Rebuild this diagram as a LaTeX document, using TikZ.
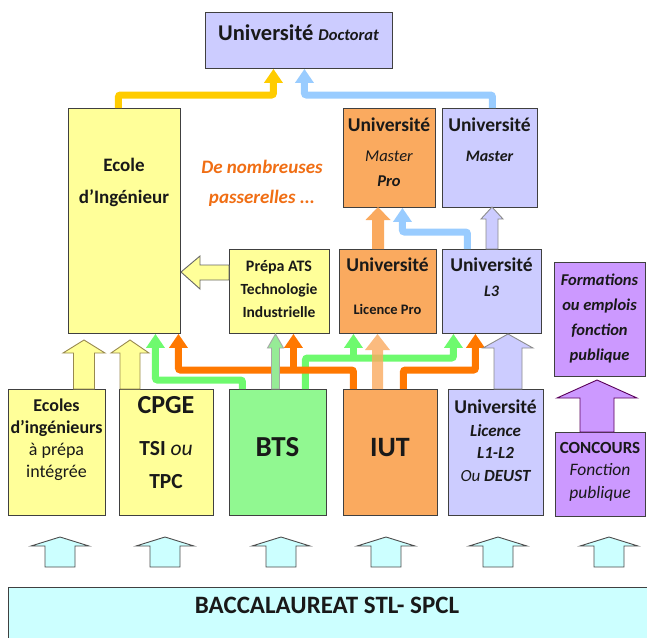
\documentclass[tikz,border=0pt]{standalone}
\usepackage{fontspec}
\setmainfont{Carlito}
\usetikzlibrary{arrows.meta,calc}
\definecolor{lav}{RGB}{204,204,255}
\definecolor{yel}{RGB}{255,255,153}
\definecolor{orb}{RGB}{250,170,95}
\definecolor{grb}{RGB}{145,248,145}
\definecolor{pur}{RGB}{204,153,255}
\definecolor{cya}{RGB}{204,255,255}
\definecolor{gold}{RGB}{255,204,0}
\definecolor{bln}{RGB}{153,204,255}
\definecolor{grn}{RGB}{110,250,110}
\definecolor{orn}{RGB}{255,120,0}
\definecolor{txo}{RGB}{240,110,20}
\definecolor{lgr}{RGB}{150,235,150}
\tikzset{
 box/.style={draw=black!75, line width=0.9pt, inner sep=0pt, anchor=north west},
 tl/.style={inner sep=0pt, text height=0.68em, text depth=0pt, anchor=center, text=black!90},
 flow/.style={line width=7pt, rounded corners=2pt, -{Triangle[length=14pt,width=18pt]}},
 blk/.style={line width=0.9pt, line join=miter},
}
\newcommand\mkbox[6]{\node[box, fill=#2, minimum width=#5pt, minimum height=#6pt] (#1) at (#3,#4) {};}
\newcommand\tline[5]{\node[tl, font=#4] (#1) at (#2,#3) {#5};}
\newcommand\upblk[7]{\path[#1] (#2,#3) -- ({#2+#6},#4) -- ({#2+#7},#4) -- ({#2+#7},#5) -- ({#2-#7},#5) -- ({#2-#7},#4) -- ({#2-#6},#4) -- cycle;}
\newcommand\fs[1]{\fontsize{#1}{#1}\selectfont}
\begin{document}
\begin{tikzpicture}[x=1pt,y=-1pt]
\useasboundingbox (0,0) rectangle (647,637);
% boxes
\mkbox{doc}{lav}{205}{12}{187}{56}
\mkbox{ecole}{yel}{68}{108}{112}{225}
\mkbox{mpro}{orb}{343}{108}{92}{99}
\mkbox{master}{lav}{442}{108}{95}{99}
\mkbox{prepa}{yel}{229}{249}{100}{84}
\mkbox{lpro}{orb}{339}{249}{97}{84}
\mkbox{lthree}{lav}{442}{249}{99}{84}
\mkbox{form}{pur}{554}{262}{91}{114}
\mkbox{ecoles}{yel}{8}{389}{97}{126}
\mkbox{cpge}{yel}{119}{389}{94}{126}
\mkbox{bts}{grb}{229}{389}{97}{126}
\mkbox{iut}{orb}{343}{389}{94}{126}
\mkbox{ulic}{lav}{448}{389}{95}{126}
\mkbox{conc}{pur}{555}{432}{90}{84}
\mkbox{bac}{cya}{8}{587}{645}{55}
% texts
\tline{tdoc}{298.5}{37}{\fs{22.5}\bfseries}{Université {\fs{16.5}\itshape Doctorat}}
\tline{tec1}{124}{168}{\fs{19}\bfseries}{Ecole}
\tline{tec2}{124}{200}{\fs{19}\bfseries}{d’Ingénieur}
\node[tl, text=txo, font=\fs{19}\bfseries\itshape] (tps1) at (262,170) {De nombreuses};
\node[tl, text=txo, font=\fs{19}\bfseries\itshape] (tps2) at (262,200) {passerelles ...};
\tline{tmp1}{389}{128}{\fs{19.5}\bfseries}{Université}
\tline{tmp2}{389}{158}{\fs{16.5}\itshape}{Master}
\tline{tmp3}{389}{183}{\fs{16.5}\bfseries\itshape}{Pro}
\tline{tma1}{489.5}{128}{\fs{19.5}\bfseries}{Université}
\tline{tma2}{489.5}{158}{\fs{16}\bfseries\itshape}{Master}
\tline{tpr1}{279}{268}{\fs{16}\bfseries}{Prépa ATS}
\tline{tpr2}{279}{291}{\fs{15.5}\bfseries}{Technologie}
\tline{tpr3}{279}{314}{\fs{15.5}\bfseries}{Industrielle}
\tline{tlp1}{387.5}{268}{\fs{19.5}\bfseries}{Université}
\tline{tlp2}{387.5}{311}{\fs{14.5}\bfseries}{Licence Pro}
\tline{tl31}{491.5}{268}{\fs{19.5}\bfseries}{Université}
\tline{tl32}{491.5}{293}{\fs{16}\bfseries\itshape}{L3}
\tline{tfo1}{599.5}{282}{\fs{16.5}\bfseries\itshape}{Formations}
\tline{tfo2}{599.5}{307}{\fs{16.5}\bfseries\itshape}{ou emplois}
\tline{tfo3}{599.5}{332}{\fs{16.5}\bfseries\itshape}{fonction}
\tline{tfo4}{599.5}{357}{\fs{16.5}\bfseries\itshape}{publique}
\tline{tes1}{56.5}{408}{\fs{18}\bfseries}{Ecoles}
\tline{tes2}{56.5}{430}{\fs{18}\bfseries}{d’ingénieurs}
\tline{tes3}{56.5}{452}{\fs{18}}{à prépa}
\tline{tes4}{56.5}{474}{\fs{18}}{intégrée}
\tline{tcp1}{166}{410}{\fs{26}\bfseries}{CPGE}
\tline{tcp2}{166}{452}{\fs{21.5}}{\textbf{TSI} \textit{ou}}
\tline{tcp3}{166}{485}{\fs{21.5}\bfseries}{TPC}
\tline{tbts}{277.5}{453}{\fs{29}\bfseries}{BTS}
\tline{tiut}{390}{453}{\fs{28}\bfseries}{IUT}
\tline{tul1}{495.5}{410}{\fs{19.5}\bfseries}{Université}
\tline{tul2}{495.5}{433}{\fs{17}\bfseries\itshape}{Licence}
\tline{tul3}{495.5}{455}{\fs{17}\bfseries\itshape}{L1-L2}
\tline{tul4}{495.5}{478}{\fs{17}\itshape}{Ou \textbf{DEUST}}
\tline{tco1}{600}{450}{\fs{17}\bfseries}{CONCOURS}
\tline{tco2}{600}{472}{\fs{17.5}\itshape}{Fonction}
\tline{tco3}{600}{495}{\fs{17.5}\itshape}{publique}
\tline{tbac}{327}{610}{\fs{25}\bfseries}{BACCALAUREAT STL- SPCL}
% top flows
\draw[flow, gold] ([xshift=-6pt]ecole.north) -- ++(0,-13) -| ([xshift=-25.5pt]doc.south);
\draw[flow, bln] ([xshift=2.5pt]master.north) -- ++(0,-13) -| ([xshift=5.5pt]doc.south);
% middle block arrows
\upblk{fill=orb}{378}{207}{220}{249}{12.5}{6}
\upblk{fill=lav, draw=black!45, blk}{492}{207}{219}{249}{11}{6}
\draw[flow, bln] ([xshift=-24.5pt]lthree.north) -- ++(0,-17) -| ([xshift=13pt]mpro.south);
% prepa -> ecole
\path[fill=yel, draw=black!60, blk] (181,272) -- (200,256) -- (200,265) -- (229,265) -- (229,280) -- (200,280) -- (200,289) -- cycle;
% yellow hollow arrows
\upblk{fill=yel, draw=black!55!yellow!70!brown, blk}{84}{340}{353}{389}{21}{10.5}
\upblk{fill=yel, draw=black!55!yellow!70!brown, blk}{130}{340}{353}{389}{19}{10}
% green flows
\draw[flow, grn] ([xshift=-35.5pt]bts.north) -- ++(0,-9) -| ([xshift=31pt]ecole.south);
\draw[flow, grn] ([xshift=27.5pt]bts.north) -- ++(0,-31) -| ([xshift=-38.5pt]lthree.south);
\draw[flow, grn] ([xshift=-34.5pt,yshift=-25pt]lpro.south) -- ([xshift=-34.5pt]lpro.south);
% orange flows
\draw[flow, orn] ([xshift=-37pt]iut.north) -- ++(0,-19) -| ([xshift=54pt]ecole.south);
\draw[flow, orn] ([xshift=14pt,yshift=-37pt]prepa.south) -- ([xshift=14pt]prepa.south);
\draw[flow, orn] ([xshift=13pt]iut.north) -- ++(0,-19) -| ([xshift=-16.5pt]lthree.south);
% bts -> prepa block
\upblk{fill=lgr, draw=black!35, blk}{275.5}{334}{348}{389}{8}{4}
% iut -> licence pro block (translucent)
\upblk{fill=orb, fill opacity=0.8}{377.5}{334}{350}{389}{12.5}{5.5}
% L1-L2 -> L3 block
\upblk{fill=lav, draw=black!45, blk}{508}{334}{348}{389}{25}{14}
% concours -> formations
\upblk{fill=pur, draw=violet!70!black, blk}{597}{380}{398}{432}{40}{17}
% bac arrows
\foreach \cx in {60,165,281,386,498,609}{
  \upblk{fill=cya, draw=black!70, blk}{\cx}{537}{546}{567}{29}{15}
}
\end{tikzpicture}
\end{document}
